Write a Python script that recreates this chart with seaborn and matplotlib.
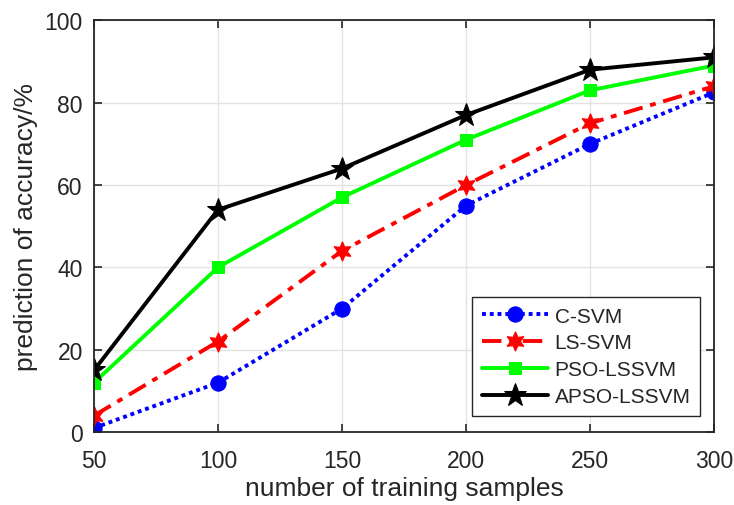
import matplotlib
matplotlib.use("Agg")
import matplotlib.pyplot as plt
import seaborn as sns
import pandas as pd

samples = [50, 100, 150, 200, 250, 300]
c_svm = [1, 12, 30, 55, 70, 82.5]
ls_svm = [4, 22, 44, 60, 75, 84]
pso_lssvm = [12, 40, 57, 71, 83, 89]
apso_lssvm = [15, 54, 64, 77, 88, 91]
series_names = ["C-SVM", "LS-SVM", "PSO-LSSVM", "APSO-LSSVM"]
yticks = [0, 20, 40, 60, 80, 100]

sns.set_style("ticks")
plt.rcParams['font.family'] = ['Liberation Sans', 'DejaVu Sans']
plt.rcParams['text.color'] = '#262626'
plt.rcParams['axes.labelcolor'] = '#262626'
plt.rcParams['xtick.color'] = '#262626'
plt.rcParams['ytick.color'] = '#262626'

fig = plt.figure(figsize=(7.34, 5.06), dpi=100)
ax = fig.add_axes([0.128, 0.144, 0.845, 0.814])

styles = [
    dict(color='#0000FF', linestyle=(0, (1, 1)), marker='o', markersize=11),
    dict(color='#FF0000', linestyle=(0, (5, 2, 1.5, 2)), marker=(6, 1, 0), markersize=14),
    dict(color='#00FF00', linestyle='-', marker='s', markersize=8),
    dict(color='#000000', linestyle='-', marker='*', markersize=17),
]
data = [c_svm, ls_svm, pso_lssvm, apso_lssvm]
for name, vals, st in zip(series_names, data, styles):
    df = pd.DataFrame({"x": samples, "y": vals})
    sns.lineplot(data=df, x="x", y="y", ax=ax, label=name, linewidth=2.8,
                 markeredgecolor=st['color'], **st)

ax.set_xlim(50, 300)
ax.set_ylim(0, 100)
ax.set_xticks(samples)
ax.set_yticks(yticks)
ax.tick_params(direction='in', labelsize=16.5, length=6, width=1.2,
               top=True, right=True)
ax.tick_params(axis='x', pad=12)
ax.tick_params(axis='y', pad=8)
ax.grid(True, color='#e3e3e3', linewidth=1)
ax.set_axisbelow(True)
for sp in ax.spines.values():
    sp.set_visible(True)
    sp.set_color('#262626')
    sp.set_linewidth(1.3)
ax.set_xlabel("number of training samples", fontsize=19, labelpad=3)
ax.set_ylabel("prediction of accuracy/%", fontsize=19, labelpad=5)

leg = ax.legend(loc='lower right', fontsize=15, frameon=True, fancybox=False,
                edgecolor='#262626', framealpha=1, handlelength=3.2,
                bbox_to_anchor=(0.977, 0.04), borderaxespad=0.0,
                borderpad=0.45, labelspacing=0.38, handletextpad=0.3)
leg.get_frame().set_linewidth(1.0)

fig.savefig("out.png", dpi=100)
